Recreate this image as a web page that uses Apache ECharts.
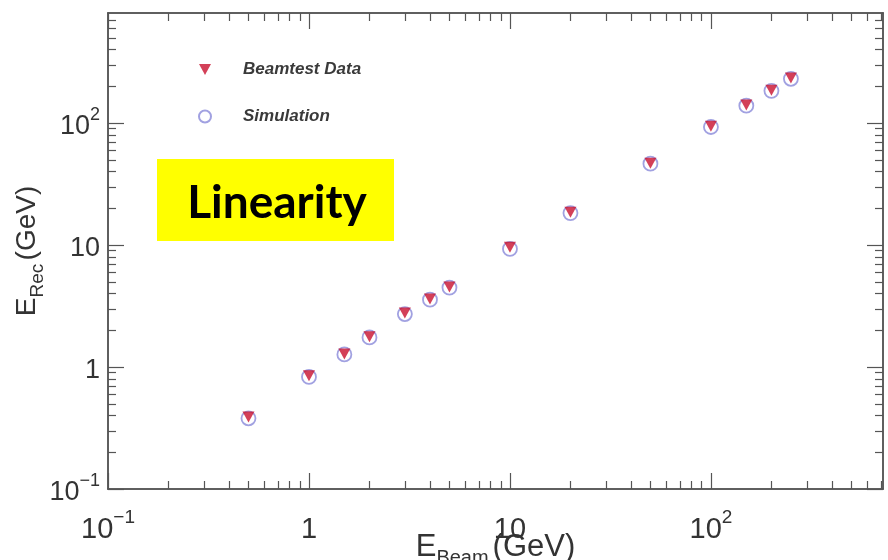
<!DOCTYPE html>
<html>
<head>
<meta charset="utf-8">
<script src="https://cdn.jsdelivr.net/npm/echarts@6/dist/echarts.min.js"></script>
<style>
html,body{margin:0;padding:0;background:#fff;}
#chart{width:888px;height:560px;}
</style>
</head>
<body>
<div id="chart"></div>
<script>
// ---- data ----
const beamEnergies = [0.5, 1, 1.5, 2, 3, 4, 5, 10, 20, 50, 100, 150, 200, 250];
const beamtestData = [0.39, 0.85, 1.28, 1.77, 2.77, 3.61, 4.53, 9.6, 18.6, 47, 94.5, 141, 186, 234];
const simulationData = [0.38, 0.83, 1.27, 1.75, 2.72, 3.57, 4.48, 9.3, 18.3, 46.5, 93, 139, 184, 231];
const seriesNames = ['Beamtest Data', 'Simulation'];
const xMajorTicks = [0.1, 1, 10, 100];
const yMajorTicks = [0.1, 1, 10, 100];
const xRange = [0.1, 718];
const yRange = [0.1, 800];

function minorTicks(range) {
  const out = [];
  for (let d = 0.1; d < range[1]; d *= 10) {
    for (let m = 2; m <= 9; m++) {
      const v = +(d * m).toPrecision(6);
      if (v > range[0] && v < range[1]) out.push(v);
    }
  }
  return out;
}
const xMinorTicks = minorTicks(xRange);
const yMinorTicks = minorTicks(yRange);

function powLabel(v) {
  const e = Math.round(Math.log10(v));
  if (e === 0) return '{b|1}';
  if (e === 1) return '{b|10}';
  return '{b|10}{s|' + (e < 0 ? '\u2212' + (-e) : e) + '}';
}

const axisColor = '#555';
const downTriangle = 'path://M0,0 L10,0 L5,9 Z';
function richFor(size) {
  return {
    b: {fontSize: size, fontFamily: 'Liberation Sans', color: '#333', lineHeight: size + 7, verticalAlign: 'bottom'},
    s: {fontSize: Math.round(size * 0.66), fontFamily: 'Liberation Sans', color: '#333', lineHeight: size + 7, verticalAlign: 'top'}
  };
}

function mkAxis(dim, pos, major, range, withLabel, extra) {
  const isMajor = major !== null;
  return {
    type: 'log',
    logBase: 10,
    position: pos,
    min: range[0],
    max: range[1],
    splitLine: {show: false},
    axisLine: {show: true, onZero: false, lineStyle: {color: axisColor, width: 1.5}},
    axisTick: {
      show: true, inside: true,
      length: isMajor ? 16 : 8,
      customValues: isMajor ? major : extra,
      lineStyle: {color: axisColor, width: 1.2}
    },
    axisLabel: withLabel ? {
      show: true,
      customValues: major,
      formatter: powLabel,
      rich: dim === 'x' ? richFor(29) : richFor(27),
      margin: dim === 'x' ? 19 : 8
    } : {show: false}
  };
}

const chart = echarts.init(document.getElementById('chart'), null, {renderer: 'canvas'});

const xAxes = [
  Object.assign(mkAxis('x', 'bottom', xMajorTicks, xRange, true), {
    name: '{e|E}{sub|Beam}{e|(GeV)}',
    nameLocation: 'middle',
    nameGap: 43,
    nameMoveOverlap: false,
    nameTextStyle: {
      rich: {
        e: {fontSize: 31, fontFamily: 'Liberation Sans', color: '#333', lineHeight: 36, verticalAlign: 'top'},
        sub: {fontSize: 20, fontFamily: 'Liberation Sans', color: '#333', lineHeight: 36, verticalAlign: 'bottom', padding: [0, 4, 0, 0]}
      }
    }
  }),
  mkAxis('x', 'bottom', null, xRange, false, xMinorTicks),
  mkAxis('x', 'top', xMajorTicks, xRange, false),
  mkAxis('x', 'top', null, xRange, false, xMinorTicks)
];
const yAxes = [
  Object.assign(mkAxis('y', 'left', yMajorTicks, yRange, true), {
    name: '{e|E}{sub|Rec} {e|(GeV)}',
    nameLocation: 'middle',
    nameGap: 61,
    nameMoveOverlap: false,
    nameTextStyle: {
      rich: {
        e: {fontSize: 28, fontFamily: 'Liberation Sans', color: '#333', lineHeight: 34, verticalAlign: 'top'},
        sub: {fontSize: 19, fontFamily: 'Liberation Sans', color: '#333', lineHeight: 34, verticalAlign: 'bottom'}
      }
    }
  }),
  mkAxis('y', 'left', null, yRange, false, yMinorTicks),
  mkAxis('y', 'right', yMajorTicks, yRange, false),
  mkAxis('y', 'right', null, yRange, false, yMinorTicks)
];

chart.setOption({
  animation: false,
  backgroundColor: '#fff',
  grid: {left: 108, top: 13, right: 5, bottom: 71, containLabel: false, outerBoundsMode: 'none'},
  xAxis: xAxes,
  yAxis: yAxes,
  legend: {
    data: seriesNames,
    orient: 'vertical',
    left: 193,
    top: 56,
    itemWidth: 12,
    itemHeight: 12,
    itemGap: 30,
    textStyle: {
      fontFamily: 'Liberation Sans',
      fontStyle: 'italic',
      fontWeight: 'bold',
      fontSize: 17,
      color: '#3a3a3a',
      padding: [0, 0, 0, 27]
    }
  },
  graphic: [
    {
      type: 'rect', x: 157, y: 159, z: 10,
      shape: {width: 237, height: 82},
      style: {fill: '#FFFF00'}
    },
    {
      type: 'text', z: 11,
      x: 277, y: 203,
      style: {
        text: 'Linearity',
        align: 'center', verticalAlign: 'middle',
        font: 'bold 46px Lato',
        fill: '#000'
      }
    }
  ],
  series: [
    {
      name: 'Simulation',
      type: 'scatter',
      xAxisIndex: 0, yAxisIndex: 0,
      symbol: 'circle',
      symbolSize: 14,
      itemStyle: {color: 'rgba(255,255,255,0)', borderColor: '#8a8ada', borderWidth: 1.8},
      data: beamEnergies.map((x, i) => [x, simulationData[i]]),
      z: 3
    },
    {
      name: 'Beamtest Data',
      type: 'scatter',
      xAxisIndex: 0, yAxisIndex: 0,
      symbol: downTriangle,
      symbolSize: [12, 11],
      itemStyle: {color: '#c8102e'},
      data: beamEnergies.map((x, i) => [x, beamtestData[i]]),
      z: 4
    }
  ]
});
</script>
</body>
</html>
